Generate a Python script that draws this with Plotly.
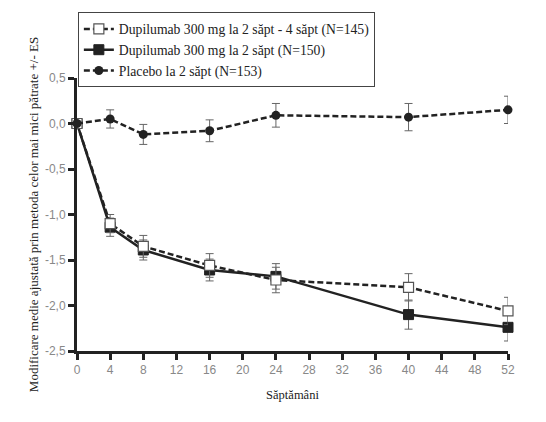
import plotly.graph_objects as go

weeks = [0, 4, 8, 16, 24, 40, 52]

q2w_q4w = [0.0, -1.10, -1.35, -1.56, -1.72, -1.80, -2.06]
q2w_q4w_se = [0.0, 0.10, 0.12, 0.13, 0.14, 0.15, 0.15]

q2w = [0.0, -1.14, -1.39, -1.61, -1.68, -2.10, -2.24]
q2w_se = [0.0, 0.10, 0.11, 0.12, 0.14, 0.16, 0.15]

placebo = [0.0, 0.05, -0.12, -0.08, 0.09, 0.07, 0.15]
placebo_se = [0.0, 0.10, 0.11, 0.12, 0.13, 0.15, 0.15]

names = [
    "Dupilumab 300 mg la 2 săpt - 4 săpt (N=145)",
    "Dupilumab 300 mg la 2 săpt (N=150)",
    "Placebo la 2 săpt (N=153)",
]

x_ticks = list(range(0, 53, 4))
y_ticks = [0.5, 0.0, -0.5, -1.0, -1.5, -2.0, -2.5]
y_tick_text = ["0,5", "0,0", "-0,5", "-1,0", "-1,5", "-2,0", "-2,5"]

serif = "Liberation Serif, Times New Roman, serif"
sans = "Liberation Sans, Arial, sans-serif"

def err(se):
    return dict(type="data", array=se, visible=True, color="#666666", thickness=1, width=4)

fig = go.Figure()
fig.add_trace(go.Scatter(
    x=weeks, y=q2w, name=names[1], mode="lines+markers", legendrank=2,
    line=dict(color="#222222", width=2.5, dash="solid"),
    marker=dict(symbol="square", size=10, color="#222222", line=dict(color="#222222", width=1)),
    error_y=err(q2w_se), cliponaxis=False,
))
fig.add_trace(go.Scatter(
    x=weeks, y=q2w_q4w, name=names[0], mode="lines+markers", legendrank=1,
    line=dict(color="#222222", width=2.5, dash="6px,3px"),
    marker=dict(symbol="square", size=10, color="white", line=dict(color="#555555", width=1.2)),
    error_y=err(q2w_q4w_se), cliponaxis=False,
))
fig.add_trace(go.Scatter(
    x=weeks, y=placebo, name=names[2], mode="lines+markers", legendrank=3,
    line=dict(color="#222222", width=2.5, dash="6px,3px"),
    marker=dict(symbol="circle", size=9, color="#222222"),
    error_y=err(placebo_se), cliponaxis=False,
))

fig.update_layout(
    width=546, height=422,
    margin=dict(l=77, r=38, t=76, b=71),
    paper_bgcolor="white", plot_bgcolor="white",
    font=dict(family=serif, color="#222222"),
    showlegend=True,
    legend=dict(
        x=0.002, y=1.24, xanchor="left", yanchor="top",
        bordercolor="#444444", borderwidth=1, bgcolor="white",
        font=dict(family=serif, size=13.7, color="#222222"),
        tracegroupgap=0, itemwidth=30,
    ),
    xaxis=dict(
        range=[0, 52], tickvals=x_ticks, showgrid=False, zeroline=False,
        showline=True, linecolor="#222222", linewidth=3,
        ticks="outside", ticklen=6, tickwidth=3, tickcolor="#222222",
        tickfont=dict(family=sans, size=12, color="#888888"),
        title=dict(text="Săptămâni", font=dict(family=serif, size=12.5, color="#222222"), standoff=14),
    ),
    yaxis=dict(
        range=[-2.5, 0.5], tickvals=y_ticks, ticktext=y_tick_text, showgrid=False, zeroline=False,
        showline=True, linecolor="#222222", linewidth=3,
        ticks="outside", ticklen=6, tickwidth=3, tickcolor="#222222",
        tickfont=dict(family=sans, size=12, color="#888888"),
        title=dict(text="Modificare medie ajustată prin metoda celor mai mici pătrate +/- ES",
                   font=dict(family=serif, size=13, color="#222222"), standoff=4),
    ),
)

fig.write_html("out.html")
